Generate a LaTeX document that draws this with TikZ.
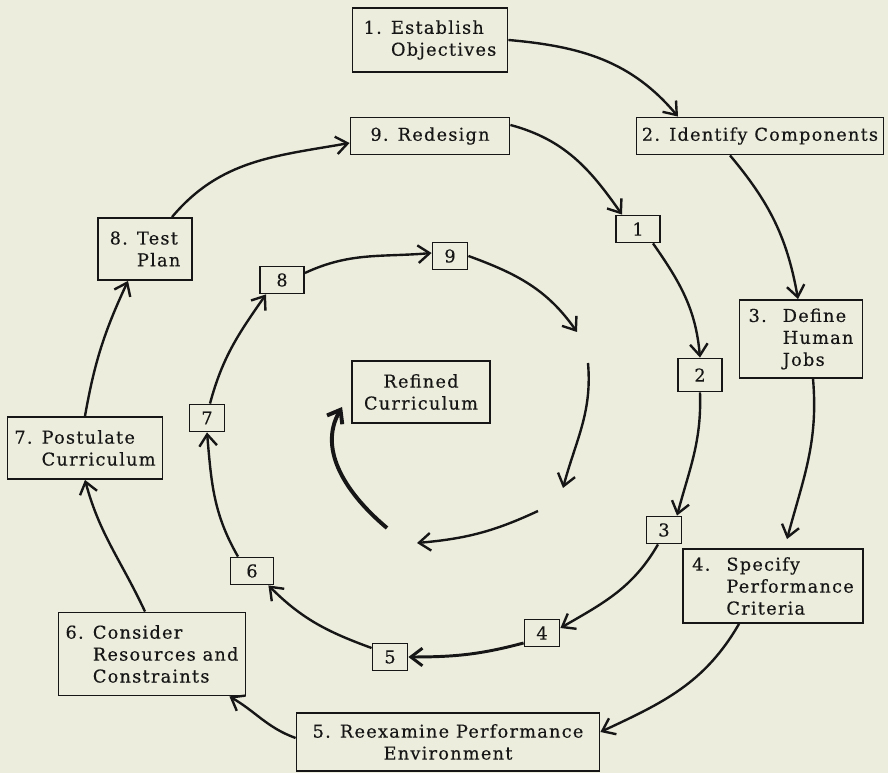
\documentclass[tikz,border=0pt]{standalone}
\usepackage{fontspec}
\setmainfont{DejaVu Serif}[LetterSpace=7, FakeBold=0.4]
\usetikzlibrary{arrows.meta}

\definecolor{paper}{RGB}{237,237,222}
\definecolor{ink}{RGB}{22,22,22}

\begin{document}
\begin{tikzpicture}[x = 0.025cm, y = 0.025cm,
	> = {Straight Barb[length = 2.9mm, width = 4.4mm]},
	box/.style 2 args = {draw = ink, line width = 1.3pt, text = ink,
		minimum width = #1*\pix, minimum height = #2*\pix, inner sep = 2pt,
		font = \fontsize{12.6}{15.6}\selectfont},
	num/.style = {draw = ink, line width = 1.3pt, text = ink,
		minimum width = 35*\pix, minimum height = 27*\pix, inner sep = 1pt,
		font = \fontsize{12.6}{15.6}\selectfont},
	link/.style = {draw = ink, line width = 1.7pt, ->}]

	% Definitions

	\def\pix{0.025cm}	% one pixel of the original sheet

	% Sheet

	\fill [paper] (0, 0) rectangle (888, 773);
	\useasboundingbox (0, 0) rectangle (888, 773);

	% Outer cycle of steps

	\node [box = {155}{64}, align = left] (b1) at (430, 733) {1. Establish\\\phantom{1. }Objectives};
	\node [box = {247}{37}] (b2) at (760, 637) {2. Identify Components};
	\node [box = {123}{78}, align = left] (b3) at (801, 434) {3. \ Define\\\phantom{3. \ }Human\\\phantom{3. \ }Jobs};
	\node [box = {180}{74}, align = left] (b4) at (773, 187) {4. \ Specify\\\phantom{4. \ }Performance\\\phantom{4. \ }Criteria};
	\node [box = {303}{58}, align = center] (b5) at (448, 31) {5. Reexamine Performance\\Environment};
	\node [box = {187}{83}, align = left] (b6) at (152, 119) {6. Consider\\\phantom{6. }Resources and\\\phantom{6. }Constraints};
	\node [box = {155}{62}, align = left] (b7) at (85, 325) {7. Postulate\\\phantom{7. }Curriculum};
	\node [box = {94}{62}, align = left] (b8) at (145, 524) {8. Test\\\phantom{8. }Plan};
	\node [box = {159}{37}] (b9) at (430, 637) {9. Redesign};

	% Inner cycle of steps

	\node [num, minimum width = 44*\pix] (s1) at (638, 544) {1};
	\node [num, minimum width = 44*\pix, minimum height = 33*\pix] (s2) at (700, 398) {2};
	\node [num] (s3) at (664, 243) {3};
	\node [num] (s4) at (542, 140) {4};
	\node [num] (s5) at (390, 116) {5};
	\node [num, minimum width = 43*\pix] (s6) at (252, 202) {6};
	\node [num] (s7) at (207, 355) {7};
	\node [num, minimum width = 44*\pix] (s8) at (282, 493) {8};
	\node [num] (s9) at (450, 517) {9};

	\node [box = {138}{62}, align = center] (ref) at (421, 381) {Refined\\Curriculum};

	% Outer arrows

	\draw [link] (b1.east) to [out = -5, in = 130] ([xshift = -82*\pix]b2.north);
	\draw [link] ([xshift = -30*\pix]b2.south) to [out = -50, in = 100] ([xshift = -3*\pix]b3.north);
	\draw [link] ([xshift = 12*\pix]b3.south) to [out = -85, in = 75] ([xshift = 14*\pix, yshift = 9*\pix]b4.north);
	\draw [link] ([xshift = -34*\pix]b4.south) to [out = -120, in = 25] ([yshift = 10*\pix]b5.east);
	\draw [link] ([yshift = 4*\pix]b5.west) to [out = 160, in = -30] ([xshift = -17*\pix]b6.south east);
	\draw [link] ([xshift = -7*\pix]b6.north) to [out = 115, in = -75] (b7.south);
	\draw [link] (b7.north) to [out = 80, in = -115] ([xshift = -17*\pix]b8.south);
	\draw [link] ([xshift = 27*\pix]b8.north) to [out = 50, in = -170] ([yshift = -7*\pix]b9.west);
	\draw [link] ([yshift = 11*\pix]b9.east) to [out = -15, in = 125] ([xshift = -16*\pix]s1.north);

	% Inner arrows

	\draw [link] ([xshift = 15*\pix]s1.south) to [out = -55, in = 95] (s2.north);
	\draw [link] (s2.south) to [out = -88, in = 75] ([xshift = 13*\pix]s3.north);
	\draw [link] ([xshift = -6*\pix]s3.south) to [out = -120, in = 30] ([yshift = 5*\pix]s4.east);
	\draw [link, line width = 2.1pt] ([yshift = -10*\pix]s4.west) to [out = -165, in = 0] (s5.east);
	\draw [link] ([yshift = 9*\pix]s5.west) to [out = 160, in = -45] ([xshift = -6*\pix]s6.south east);
	\draw [link] ([xshift = -14*\pix]s6.north) to [out = 120, in = -85] (s7.south);
	\draw [link] ([xshift = 3*\pix]s7.north) to [out = 75, in = -125] ([xshift = -16*\pix]s8.south);
	\draw [link] ([yshift = 7*\pix]s8.east) to [out = 25, in = -175] ([yshift = 3*\pix]s9.west);

	% Spiral into the centre

	\coordinate (c1) at (577, 441);
	\coordinate (c2) at (588, 410);
	\coordinate (c3) at (563, 285);
	\coordinate (c4) at (538, 262);
	\coordinate (c5) at (417, 230);
	\coordinate (c6) at (387, 245);

	\draw [link] (s9.east) to [out = -20, in = 125] (c1);
	\draw [link] (c2) to [out = -85, in = 75] (c3);
	\draw [link] (c4) to [out = 205, in = 5] (c5);
	\draw [link, line width = 2.8pt] (c6) to [out = 140, in = -120] ([xshift = -9*\pix, yshift = -15*\pix]ref.west);

\end{tikzpicture}
\end{document}
